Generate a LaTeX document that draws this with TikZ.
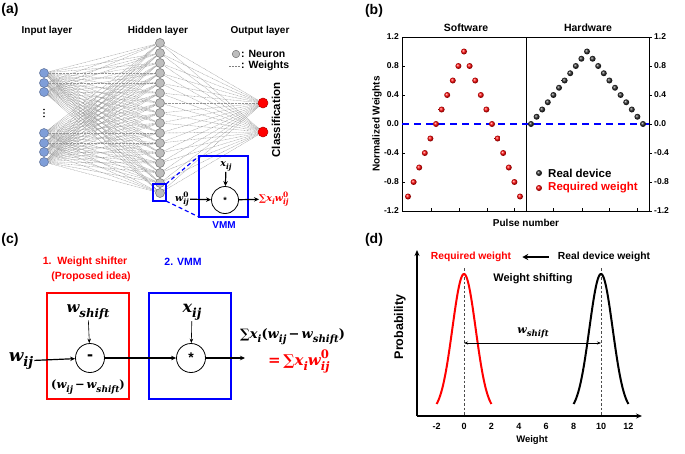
\documentclass[tikz,border=0pt]{standalone}
\usepackage{fontspec}
\setmainfont{Liberation Sans}
\newfontfamily\dvs{DejaVu Serif}
\usepackage{graphicx}
\usetikzlibrary{arrows.meta}
\pgfdeclarelayer{bg}
\pgfsetlayers{bg,main}
\definecolor{inblue}{HTML}{7F9ED8}
\definecolor{inedge}{HTML}{5A6E96}
\definecolor{hgray}{HTML}{BDBDBD}
\definecolor{hedge}{HTML}{6E6E6E}
\definecolor{myred}{HTML}{FF0000}
\definecolor{myblue}{HTML}{0000FF}
\newcommand{\fs}[1]{\fontsize{#1}{#1}\selectfont}
\newcommand{\mv}[1]{{\dvs\bfseries\itshape #1}}
\newcommand{\mup}[1]{{\dvs\bfseries #1}}
\newcommand{\msub}[1]{\raisebox{-0.3em}{\scalebox{0.78}{\mv{#1}}}}
\newcommand{\msubsup}[2]{\makebox[0pt][l]{\raisebox{0.5em}{\scalebox{0.78}{\mup{#2}}}}\msub{#1}}
\begin{document}
\begin{tikzpicture}[x=1pt,y=-1pt,
  lbl/.style={font=\fs{10}\bfseries, inner sep=0pt},
  panel/.style={font=\fs{14}\bfseries, inner sep=0pt},
  innode/.style={circle, draw=inedge, fill=inblue, line width=0.5pt, minimum size=9pt, inner sep=0pt},
  hnode/.style={circle, draw=hedge, fill=hgray, line width=0.5pt, minimum size=9pt, inner sep=0pt},
  onode/.style={circle, draw=red!70!black, fill=myred, line width=0.5pt, minimum size=10pt, inner sep=0pt},
  wline/.style={black!42, dash pattern=on 0.8pt off 0.6pt, line width=0.35pt},
  arr/.style={-{Stealth[length=5pt,width=4.5pt]}, line width=1.2pt},
  tarr/.style={-{Stealth[length=4.5pt,width=3.5pt]}, line width=0.6pt},
  opcirc/.style={circle, draw, line width=0.8pt, inner sep=0pt},
  tick/.style={line width=0.8pt},
  bmath/.style={inner sep=0pt, font=\fs{#1}}
]
\useasboundingbox (0,0) rectangle (685,453);

% ---------- panel labels ----------
\node[panel] (la) at (10,10) {(a)};
\node[panel] (lb) at (374,11) {(b)};
\node[panel] (lc) at (10,240) {(c)};
\node[panel] (ld) at (374,240) {(d)};

% ---------- (a) ----------
\node[lbl] (tin) at (47,31) {Input layer};
\node[lbl] (thid) at (158,31) {Hidden layer};
\node[lbl] (tout) at (260,31) {Output layer};

\foreach \i/\y in {0/73,1/83,2/92,3/133,4/143,5/152,6/162}
  \node[innode] (in\i) at (44,\y) {};
\foreach \yy in {109.5,113,116.5}
  \fill (44,\yy) circle (0.9);
\foreach \i in {0,...,15}
  \node[hnode] (h\i) at (160,{43+10*\i}) {};
\node[onode] (o0) at (263,103) {};
\node[onode] (o1) at (263,132) {};

\begin{pgfonlayer}{bg}
\foreach \i in {0,...,6}
  \foreach \j in {0,...,15}
    \draw[wline] (in\i) -- (h\j);
\foreach \j in {0,...,15}
  \foreach \k in {0,1}
    \draw[wline] (h\j) -- (o\k);
\end{pgfonlayer}

\node[hnode, minimum size=7.5pt] (legn) at (236,54) {};
\node[lbl, anchor=west, font=\fs{10.5}\bfseries] (legnt) at (241,54) {: Neuron};
\coordinate (lw1) at (229,66);
\coordinate (lw2) at (240,66);
\draw[gray, dash pattern=on 2pt off 1pt, line width=0.5pt] (lw1) -- (lw2);
\node[lbl, anchor=west, font=\fs{10.5}\bfseries] (legwt) at (241,66) {: Weights};

\node[lbl, font=\fs{11.5}\bfseries, rotate=90] (cls) at (276,120) {Classification};

\coordinate (sb1) at (153,184);
\coordinate (sb2) at (166,201);
\coordinate (bb1) at (199,156);
\coordinate (bb2) at (248,217);
\draw[myblue, line width=1.6pt] (sb1) rectangle (sb2);
\draw[myblue, line width=1.8pt] (bb1) rectangle (bb2);
\draw[myblue, dash pattern=on 4pt off 3pt, line width=1.2pt] (sb2 |- sb1) -- (bb1);
\draw[myblue, dash pattern=on 4pt off 3pt, line width=1.2pt] (sb2) -- (bb1 |- bb2);
\node[lbl, text=myblue] (vmm) at (224,225) {VMM};

\node[opcirc, minimum size=27pt] (mult) at (225,200) {\fs{9}\bfseries *};
\node[bmath=9.5, inner sep=1pt] (xa) at (226,166) {\mv{x}\msub{ij}};
\draw[arr] (xa) -- (mult);
\node[bmath=9.5, inner sep=1pt] (wa) at (182,199) {\mv{w}\msubsup{ij}{0}};
\draw[arr] (wa) -- (mult);
\node[bmath=9.5, anchor=west, text=myred] (suma) at (259,199) {\mup{∑}\mv{x}\msub{i}\mv{w}\msubsup{ij}{0}};
\draw[arr] (mult) -- (suma);

% ---------- (b) ----------
\node[lbl, font=\fs{10.5}\bfseries] (tsw) at (466,28) {Software};
\node[lbl, font=\fs{10.5}\bfseries] (thw) at (588,28) {Hardware};
\node[lbl, rotate=90] (tnw) at (377,124) {Normalized Weights};
\node[lbl] (tpn) at (526,223) {Pulse number};

\draw[line width=1pt] (402,37) rectangle (649,211);
\draw[line width=0.9pt] (526,37) -- (526,211);
\foreach \v/\t in {1.2/1.2,0.8/0.8,0.4/0.4,0/0.0,-0.4/-0.4,-0.8/-0.8,-1.2/-1.2}{
  \draw[tick] (402,{124-72.5*\v}) -- (405,{124-72.5*\v});
  \draw[tick] (649,{124-72.5*\v}) -- (652,{124-72.5*\v});
  \node[lbl, font=\fs{8.5}\bfseries, anchor=east] at (399,{124-72.5*\v}) {\t};
  \node[lbl, font=\fs{8.5}\bfseries, anchor=west] at (654,{124-72.5*\v}) {\t};
}
\foreach \xx in {431,459,487,514,553,582,609,637}
  \draw[tick] (\xx,211) -- (\xx,208);
\draw[myblue, line width=1.5pt, dash pattern=on 7pt off 5pt] (402,124) -- (649,124);

\foreach \k in {0,...,20}{
  \pgfmathsetmacro\vr{(\k<=10) ? (-1+0.2*\k) : (1-0.2*(\k-10))}
  \pgfmathsetmacro\vb{(\k<=10) ? (0.1*\k) : (0.1*(20-\k))}
  \shade[ball color=myred] ({408+5.6*\k},{124-72.5*\vr}) circle (3);
  \shade[ball color=black!85] ({531+5.6*\k},{124-72.5*\vb}) circle (3);
}
\shade[ball color=black!85] (539,173) circle (3);
\shade[ball color=myred] (539,188) circle (3);
\node[lbl, font=\fs{11.5}\bfseries, anchor=west] (lrd) at (548,173) {Real device};
\node[lbl, font=\fs{11.5}\bfseries, anchor=west, text=myred] (lrw) at (548,188) {Required weight};

% ---------- (c) ----------
\node[lbl, font=\fs{10.5}\bfseries, text=myred] (t1) at (85,262) {1.\ \ Weight shifter};
\node[lbl, font=\fs{10.5}\bfseries, text=myred] (t1b) at (91,277) {(Proposed idea)};
\node[lbl, font=\fs{10.5}\bfseries, text=myblue] (t2) at (183,262) {2. VMM};

\coordinate (rb1) at (47,293);
\coordinate (rb2) at (129,399);
\coordinate (ub1) at (149,293);
\coordinate (ub2) at (231,399);
\draw[myred, line width=1.6pt] (rb1) rectangle (rb2);
\draw[myblue, line width=1.6pt] (ub1) rectangle (ub2);

\node[opcirc, minimum size=29pt] (minus) at (90,358) {\fs{18}\bfseries -};
\node[opcirc, minimum size=29pt] (star) at (191,358) {\fs{14}\bfseries *};

\node[bmath=17, inner sep=1pt] (wij) at (21,361) {\mv{w}\msub{ij}};
\draw[arr] (wij) -- (minus);
\node[bmath=15, inner sep=1pt] (wsh) at (88,312) {\mv{w}\msub{shift}};
\draw[tarr] (wsh) -- (minus);
\node[bmath=11.5] (diff) at (88,387) {\mup{(}\mv{w}\msub{ij}\,\mup{−}\,\mv{w}\msub{shift}\mup{)}};
\draw[arr] (minus) -- (star);
\node[bmath=16, inner sep=1pt] (xc) at (192,312) {\mv{x}\msub{ij}};
\draw[tarr] (xc) -- (star);
\coordinate (outc) at (245,358);
\draw[arr] (star) -- (outc);
\node[bmath=13, anchor=west] (sumc) at (240,337) {\mup{∑}\mv{x}\msub{i}\mup{(}\mv{w}\msub{ij}\,\mup{−}\,\mv{w}\msub{shift}\mup{)}};
\node[bmath=15, anchor=west, text=myred] (sumr) at (268,361) {\mup{=}\,\mup{∑}\mv{x}\msub{i}\mv{w}\msubsup{ij}{0}};

% ---------- (d) ----------
\coordinate (dO) at (417,416);
\coordinate (dY) at (417,250);
\coordinate (dX) at (642,416);
\draw[-{Stealth[length=6pt,width=5pt]}, line width=1.2pt] (dO) -- (dY);
\draw[-{Stealth[length=6pt,width=5pt]}, line width=1.2pt] (dO) -- (dX);
\foreach \w in {-2,0,2,4,6,8,10,12}
  \node[lbl, font=\fs{9}\bfseries] at ({464+13.7*\w},426) {\w};
\node[lbl, font=\fs{9.5}\bfseries] (tw) at (532,440) {Weight};
\node[lbl, font=\fs{12.5}\bfseries, rotate=90] (tprob) at (400,327) {Probability};

\draw[dash pattern=on 2.5pt off 2pt, line width=0.6pt, black!70] (464,268) -- (464,416);
\draw[dash pattern=on 2.5pt off 2pt, line width=0.6pt, black!70] (601,268) -- (601,416);

\draw[myred, line width=2pt, smooth, samples=60, domain=-2:2]
  plot ({464+13.7*\x},{404-130*(exp(-\x*\x/1.445)-0.0627)/0.9373});
\draw[black, line width=2pt, smooth, samples=60, domain=-2:2]
  plot ({601+13.7*\x},{404-130*(exp(-\x*\x/1.445)-0.0627)/0.9373});

\node[lbl, font=\fs{10.3}\bfseries, text=myred] (rw) at (471,257) {Required weight};
\node[lbl, font=\fs{10.3}\bfseries] (rdw) at (604,257) {Real device weight};
\draw[-{Stealth[length=6pt,width=6pt]}, line width=2.2pt] ([xshift=-9pt]rdw.west) -- ([xshift=11pt]rw.east);
\node[lbl, font=\fs{11}\bfseries] (tws) at (533,279) {Weight shifting};
\node[bmath=11] (wsd) at (533,333) {\mv{w}\msub{shift}};
\coordinate (sa) at (464,343);
\coordinate (sb) at (601,343);
\draw[{Stealth[length=4pt,width=3pt]}-{Stealth[length=4pt,width=3pt]}, line width=0.6pt] (sa) -- (sb);
\end{tikzpicture}
\end{document}
